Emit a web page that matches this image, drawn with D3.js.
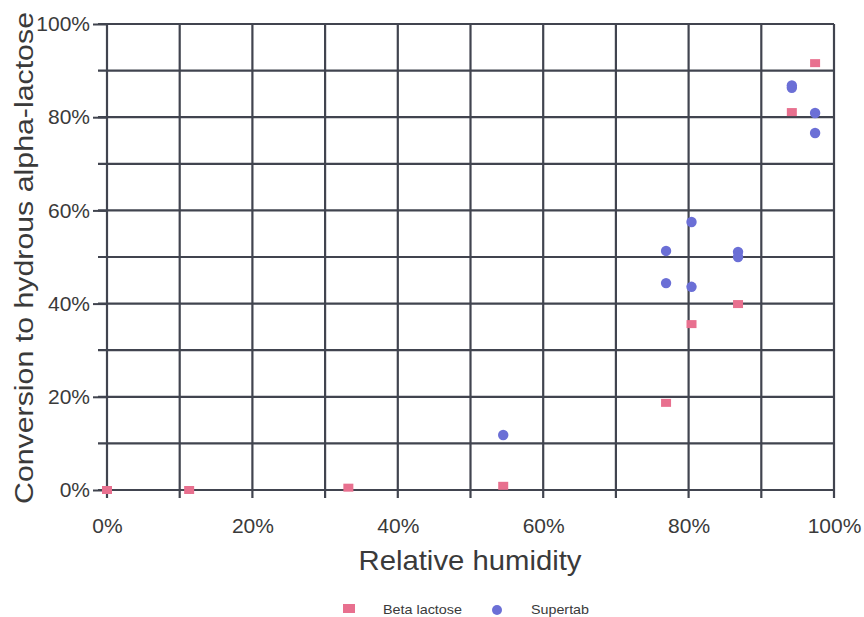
<!DOCTYPE html>
<html>
<head>
<meta charset="utf-8">
<script src="https://cdn.jsdelivr.net/npm/d3@7/dist/d3.min.js"></script>
<style>
  html, body { margin: 0; padding: 0; background: #ffffff; }
  svg { display: block; }
  text { font-family: "Liberation Sans", Arial, Helvetica, sans-serif; }
</style>
</head>
<body>
<svg id="chart" width="864" height="617"></svg>
<script>
// ---- data ----
const betaRH   = [0, 11.3, 33.2, 54.5, 76.9, 80.4, 86.8, 94.2, 97.4];
const betaConv = [0, 0, 0.5, 0.9, 18.7, 35.6, 39.9, 81.1, 91.6];
const superRH   = [54.5, 76.9, 76.9, 80.4, 80.4, 86.8, 86.8, 94.2, 94.2, 97.4, 97.4];
const superConv = [11.8, 51.3, 44.4, 57.5, 43.6, 51.1, 50.0, 86.3, 86.8, 80.9, 76.6];
const tickValues = [0, 20, 40, 60, 80, 100];
const gridValues = [0, 10, 20, 30, 40, 50, 60, 70, 80, 90, 100];
const seriesNames = ["Beta lactose", "Supertab"];

const pink = "#e8708f";
const blue = "#6b6fd6";
const gridColor = "#41444f";
const textColor = "#3a3a3a";

const svg = d3.select("#chart");
const x = d3.scaleLinear().domain([0, 100]).range([107, 834]);
const y = d3.scaleLinear().domain([0, 100]).range([490, 24]);

// grid
const g = svg.append("g");
g.selectAll("line.h").data(gridValues).join("line")
  .attr("x1", x(0) - 9).attr("x2", x(100))
  .attr("y1", d => y(d)).attr("y2", d => y(d))
  .attr("stroke", gridColor).attr("stroke-width", 2.2);
g.selectAll("line.v").data(gridValues).join("line")
  .attr("x1", d => x(d)).attr("x2", d => x(d))
  .attr("y1", y(100)).attr("y2", y(0) + 8)
  .attr("stroke", gridColor).attr("stroke-width", 2.2);

// axes
const yAxis = svg.append("g").attr("transform", `translate(${x(0)},0)`)
  .call(d3.axisLeft(y).tickValues(tickValues).tickSize(14).tickPadding(3).tickFormat(d => d + "%"));
yAxis.select(".domain").remove();
yAxis.selectAll("line").attr("stroke", gridColor).attr("stroke-width", 2);
yAxis.selectAll("text").attr("font-size", 21).attr("fill", textColor)
  .style("font-family", "'Liberation Sans', Arial, sans-serif");

const xAxis = svg.append("g").attr("transform", `translate(0,${y(0)})`)
  .call(d3.axisBottom(x).tickValues(tickValues).tickSize(0).tickPadding(28).tickFormat(d => d + "%"));
xAxis.select(".domain").remove();
xAxis.selectAll("text").attr("font-size", 21).attr("fill", textColor)
  .style("font-family", "'Liberation Sans', Arial, sans-serif");

// axis titles
svg.append("text")
  .attr("x", 470).attr("y", 570)
  .attr("text-anchor", "middle")
  .attr("font-size", 28).attr("fill", textColor)
  .attr("textLength", 223).attr("lengthAdjust", "spacingAndGlyphs")
  .text("Relative humidity");

svg.append("text")
  .attr("transform", "translate(33,258) rotate(-90)")
  .attr("text-anchor", "middle")
  .attr("font-size", 26).attr("fill", textColor)
  .attr("textLength", 492).attr("lengthAdjust", "spacingAndGlyphs")
  .text("Conversion to hydrous alpha-lactose");

// points
const betaData = betaRH.map((v, i) => ({ rh: v, c: betaConv[i] }));
const superData = superRH.map((v, i) => ({ rh: v, c: superConv[i] }));

svg.append("g").selectAll("rect").data(betaData).join("rect")
  .attr("x", d => x(d.rh) - 5).attr("y", d => y(d.c) - 4)
  .attr("width", 10).attr("height", 8)
  .attr("fill", pink);

svg.append("g").selectAll("circle").data(superData).join("circle")
  .attr("cx", d => x(d.rh)).attr("cy", d => y(d.c))
  .attr("r", 5.2)
  .attr("fill", blue);

// legend
const leg = svg.append("g");
leg.append("rect").attr("x", 343).attr("y", 604).attr("width", 12).attr("height", 9).attr("fill", pink);
leg.append("text").attr("x", 383).attr("y", 614).attr("font-size", 13).attr("fill", textColor)
  .attr("textLength", 79).attr("lengthAdjust", "spacingAndGlyphs").text(seriesNames[0]);
leg.append("circle").attr("cx", 497).attr("cy", 610).attr("r", 5).attr("fill", blue);
leg.append("text").attr("x", 531).attr("y", 614).attr("font-size", 13).attr("fill", textColor)
  .attr("textLength", 58).attr("lengthAdjust", "spacingAndGlyphs").text(seriesNames[1]);
</script>
</body>
</html>
